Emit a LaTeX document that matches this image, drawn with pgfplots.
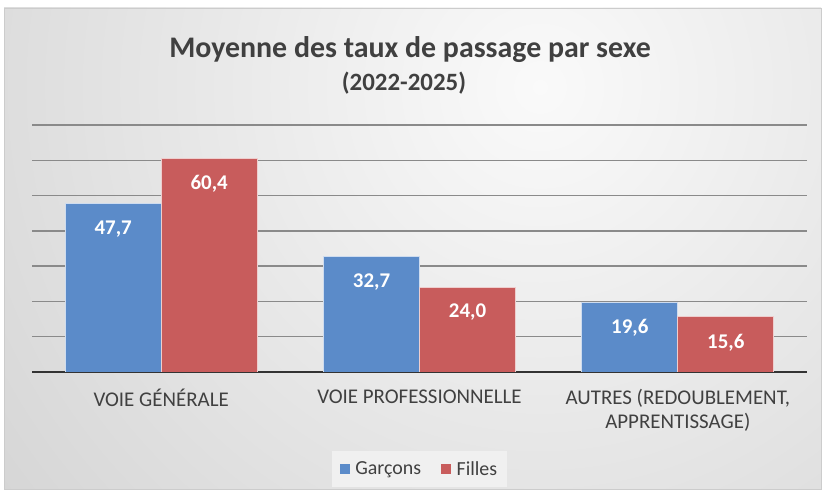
\documentclass[border=0pt]{standalone}
\usepackage{pgfplots}
\pgfplotsset{compat=1.18}
\usepackage{fontspec}
\setmainfont{Carlito}
\definecolor{bblue}{RGB}{91,139,201}
\definecolor{bred}{RGB}{200,92,92}
\definecolor{txt}{RGB}{64,64,64}
\definecolor{gridc}{RGB}{138,138,138}
\begin{document}
\begin{tikzpicture}
\path[fill=white] (0,0) rectangle (825bp,497bp);
\begin{scope}
\clip (4bp,8bp) rectangle (821bp,489bp);
\shade[inner color=white!96!gray, outer color=gray!50] (540bp,410bp) circle (1100bp);
\end{scope}
\draw[gray!40, line width=0.8bp] (4bp,8bp) rectangle (821bp,489bp);
\node[font=\bfseries\fontsize{30}{30}\selectfont, text=txt] at (410bp,447bp) {Moyenne des taux de passage par sexe};
\node[font=\bfseries\fontsize{25}{25}\selectfont, text=txt] at (404bp,414bp) {(2022-2025)};
\begin{axis}[
  at={(32bp,125bp)}, anchor=south west,
  scale only axis, width=775bp, height=247bp,
  xmin=-0.5, xmax=2.5, ymin=0, ymax=70,
  ybar=0pt, bar width=96bp,
  axis lines*=left,
  y axis line style={draw=none},
  x axis line style={line width=2.2bp, draw=black!80},
  xtick={0,1,2},
  xticklabels={VOIE GÉNÉRALE, VOIE PROFESSIONNELLE, {AUTRES (REDOUBLEMENT,\\APPRENTISSAGE)}},
  xticklabel style={font=\fontsize{21}{24}\selectfont, text=txt, align=center, anchor=north, yshift=-14bp},
  ytick={10,20,...,70}, yticklabels={},
  major tick length=0pt,
  ymajorgrids, grid style={draw=gridc, line width=1.3bp},
  nodes near coords={\pgfmathprintnumber[fixed,fixed zerofill,precision=1,use comma,assume math mode=true]{\pgfplotspointmeta}},
  every node near coord/.append style={font=\bfseries\fontsize{21}{21}\selectfont, text=white, anchor=north, yshift=-13bp},
  legend style={at={(0.5,-0.393)}, anchor=center, legend columns=2, fill=white!88!gray, draw=none,
     font=\fontsize{20}{20}\selectfont, text=txt, inner xsep=8bp, inner ysep=8bp,
     /tikz/every even column/.append style={column sep=18bp}},
  legend image code/.code={\fill[#1, draw=none] (0bp,-5bp) rectangle (10bp,5bp); \path (13bp,0bp);},
]
\addplot[fill=bblue, draw=bblue!30!white, line width=1bp] coordinates {(0,47.7) (1,32.7) (2,19.6)};
\addplot[fill=bred, draw=bred!30!white, line width=1bp] coordinates {(0,60.4) (1,24.0) (2,15.6)};
\legend{Garçons, Filles}
\end{axis}
\end{tikzpicture}
\end{document}
